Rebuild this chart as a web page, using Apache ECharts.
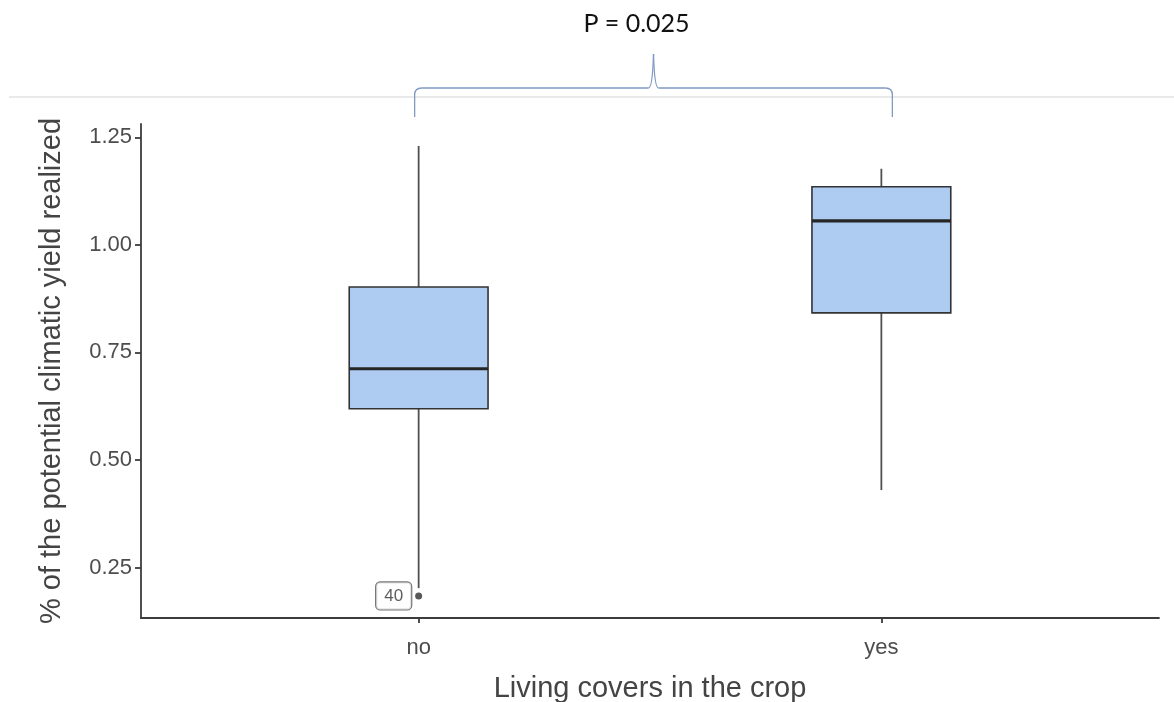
<!DOCTYPE html>
<html>
<head>
<meta charset="utf-8">
<script src="https://cdn.jsdelivr.net/npm/echarts@6/dist/echarts.min.js"></script>
<style>
  html, body { margin: 0; padding: 0; background: #fff; }
  #chart { width: 1174px; height: 702px; }
</style>
</head>
<body>
<div id="chart"></div>
<script>
// ---- data ----
const categories = ['no', 'yes'];
const whiskerLow = [0.202, 0.430];
const q1 = [0.619, 0.842];
const median = [0.712, 1.056];
const q3 = [0.902, 1.135];
const whiskerHigh = [1.230, 1.177];
const outlierCategory = ['no'];
const outlierValue = [0.184];
const outlierLabel = ['40'];
const yTicks = [0.25, 0.50, 0.75, 1.00, 1.25];
const pText = 'P = 0.025';
const xTitle = 'Living covers in the crop';
const yTitle = '% of the potential climatic yield realized';

// ---- build ----
const xPos = categories.map((c, i) => i + 1);
const boxData = categories.map((c, i) => [xPos[i], whiskerLow[i], q1[i], median[i], q3[i], whiskerHigh[i]]);
const outData = outlierCategory.map((c, i) => ({
  value: [categories.indexOf(c) + 1, outlierValue[i]],
  label: outlierLabel[i]
}));

const chart = echarts.init(document.getElementById('chart'), null, { renderer: 'canvas' });

const BOX_W = 0.3; // box width in x units
function renderBox(params, api) {
  const x = api.value(0);
  const pLo = api.coord([x, api.value(1)]);
  const pQ1 = api.coord([x, api.value(2)]);
  const pMed = api.coord([x, api.value(3)]);
  const pQ3 = api.coord([x, api.value(4)]);
  const pHi = api.coord([x, api.value(5)]);
  const w = api.size([BOX_W, 0], [x, 0])[0];
  const cx = pMed[0];
  const left = cx - w / 2;
  return {
    type: 'group',
    children: [
      { type: 'line', shape: { x1: cx, y1: pHi[1], x2: cx, y2: pQ3[1] },
        style: { stroke: '#505050', lineWidth: 1.8 } },
      { type: 'line', shape: { x1: cx, y1: pQ1[1], x2: cx, y2: pLo[1] },
        style: { stroke: '#505050', lineWidth: 1.8 } },
      { type: 'rect', shape: { x: left, y: pQ3[1], width: w, height: pQ1[1] - pQ3[1] },
        style: { fill: '#aecbf2', stroke: '#333', lineWidth: 1.6 } },
      { type: 'line', shape: { x1: left, y1: pMed[1], x2: left + w, y2: pMed[1] },
        style: { stroke: '#262626', lineWidth: 3.2 } }
    ]
  };
}

const axisColor = '#3c3c3c';
chart.setOption({
  animation: false,
  grid: { left: 141, right: 15, top: 124, bottom: 84, containLabel: false, outerBoundsMode: 'none' },
  xAxis: {
    type: 'value',
    min: 0.4,
    max: 2.6,
    name: xTitle,
    nameLocation: 'middle',
    nameGap: 56,
    nameTextStyle: { fontFamily: 'Liberation Sans', fontSize: 29, color: '#444' },
    splitLine: { show: false },
    axisLine: { show: true, lineStyle: { color: axisColor, width: 1.8 } },
    axisTick: { show: true, length: 5, customValues: xPos, lineStyle: { color: axisColor, width: 1.8 } },
    axisLabel: {
      customValues: xPos,
      formatter: v => categories[Math.round(v) - 1] || '',
      margin: 19,
      fontFamily: 'Liberation Sans', fontSize: 22, color: '#4d4d4d'
    }
  },
  yAxis: {
    type: 'value',
    min: 0.1326,
    max: 1.281,
    name: yTitle,
    nameLocation: 'middle',
    nameGap: 75,
    nameTextStyle: { fontFamily: 'Liberation Sans', fontSize: 29, color: '#444' },
    splitLine: { show: false },
    axisLine: { show: true, lineStyle: { color: axisColor, width: 1.8 } },
    axisTick: { show: true, length: 6, customValues: yTicks, lineStyle: { color: axisColor, width: 1.8 } },
    axisLabel: {
      customValues: yTicks,
      formatter: v => Number(v).toFixed(2),
      margin: 9,
      fontFamily: 'Liberation Sans', fontSize: 22, color: '#4d4d4d'
    }
  },
  series: [
    {
      type: 'custom',
      renderItem: renderBox,
      encode: { x: 0, y: [1, 2, 3, 4, 5] },
      data: boxData,
      z: 2
    },
    {
      type: 'scatter',
      data: outData,
      symbol: 'circle',
      symbolSize: 7,
      itemStyle: { color: '#2e2e2e' },
      z: 3,
      label: {
        show: true,
        position: 'left',
        distance: 4,
        formatter: p => p.data.label,
        fontFamily: 'Liberation Sans',
        fontSize: 17,
        color: '#333',
        backgroundColor: '#fff',
        borderColor: '#555',
        borderWidth: 1.2,
        borderRadius: 4,
        padding: [6, 8, 4, 8]
      }
    }
  ]
});

// annotation brace spanning the two categories, positioned through the axis scale
const xa = chart.convertToPixel({ xAxisIndex: 0 }, xPos[0]) - 4;
const xb = chart.convertToPixel({ xAxisIndex: 0 }, xPos[1]) + 11;
const xm = (xa + xb) / 2;
const yb = 88, yTip = 54, yEnd = 117, r = 7;
const braceStyle = { stroke: '#7f98c4', lineWidth: 1.3, fill: null };
function seg(shape, type) {
  return { type: type, shape: shape, style: braceStyle, silent: true };
}

chart.setOption({
  graphic: [
    { type: 'line', shape: { x1: 9, y1: 97, x2: 1174, y2: 97 },
      style: { stroke: '#e2e2e2', lineWidth: 1.5 }, silent: true },
    seg({ x1: xa, y1: yEnd, x2: xa, y2: yb + r }, 'line'),
    seg({ x1: xa, y1: yb + r, x2: xa + r, y2: yb, cpx1: xa, cpy1: yb }, 'bezierCurve'),
    seg({ x1: xa + r, y1: yb, x2: xm - 5, y2: yb }, 'line'),
    seg({ x1: xm - 5, y1: yb, x2: xm, y2: yTip, cpx1: xm - 1, cpy1: yb }, 'bezierCurve'),
    seg({ x1: xm, y1: yTip, x2: xm + 5, y2: yb, cpx1: xm + 1, cpy1: yb }, 'bezierCurve'),
    seg({ x1: xm + 5, y1: yb, x2: xb - r, y2: yb }, 'line'),
    seg({ x1: xb - r, y1: yb, x2: xb, y2: yb + r, cpx1: xb, cpy1: yb }, 'bezierCurve'),
    seg({ x1: xb, y1: yb + r, x2: xb, y2: yEnd }, 'line'),
    { type: 'text', x: xm - 17, y: 24,
      style: { text: pText, fontFamily: 'Lato', fontSize: 25, fill: '#111',
               textAlign: 'center', textVerticalAlign: 'middle' }, silent: true }
  ]
});
</script>
</body>
</html>
